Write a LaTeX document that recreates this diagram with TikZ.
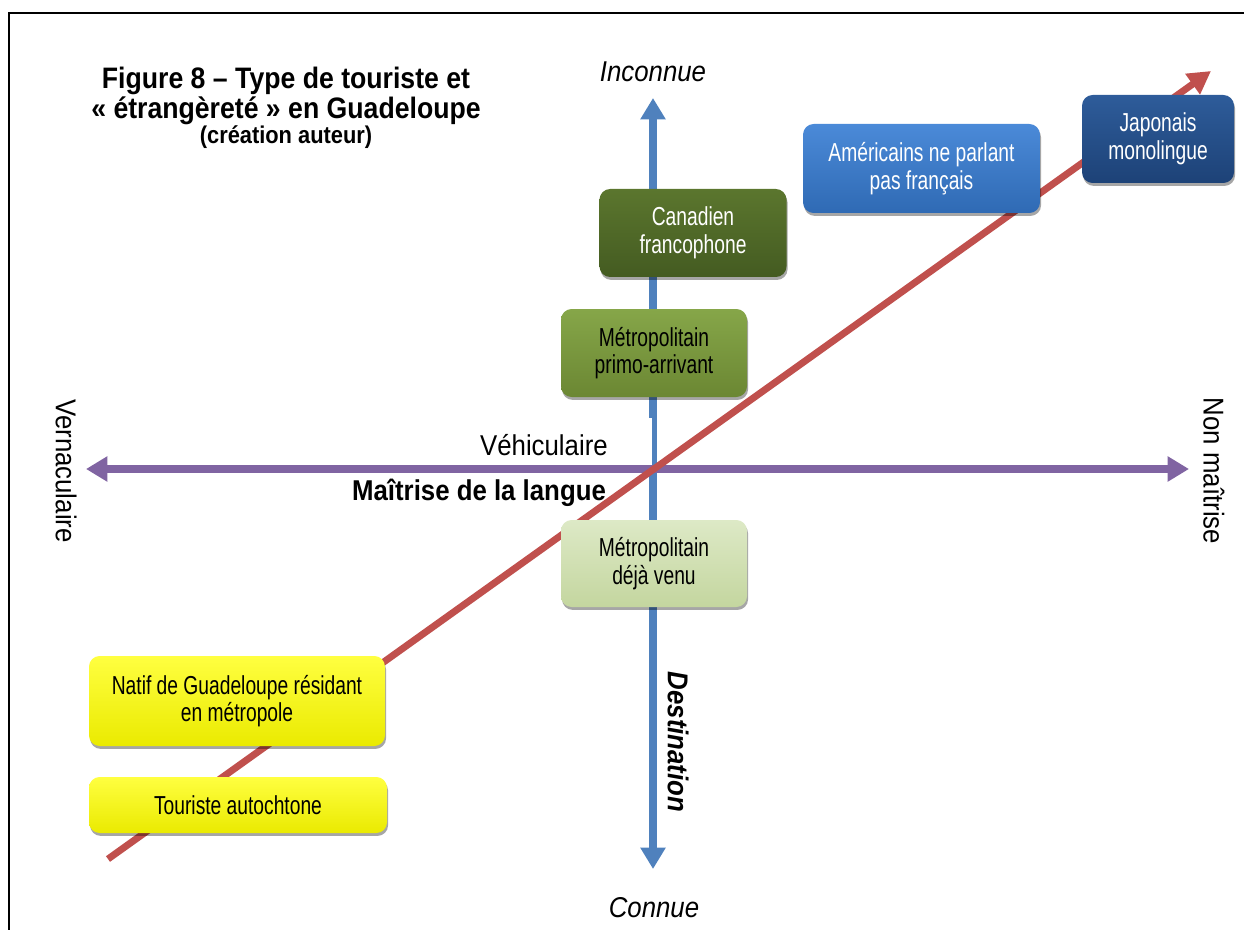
\documentclass[tikz,border=0pt]{standalone}
\usepackage{fontspec}
\setmainfont{Liberation Sans}
\newfontfamily\labf[FakeStretch=0.9]{Liberation Sans}
\newfontfamily\boxf[FakeStretch=0.74]{Liberation Sans}
\usetikzlibrary{arrows.meta,shadows}
\newlength\px \setlength\px{0.75pt}
\definecolor{axblue}{HTML}{4F81BD}
\definecolor{axpurple}{HTML}{8064A2}
\definecolor{axred}{HTML}{C0504D}
\definecolor{canTop}{HTML}{5B762E}
\definecolor{canBot}{HTML}{445B21}
\definecolor{priTop}{HTML}{86A649}
\definecolor{priBot}{HTML}{6B8733}
\definecolor{dejTop}{HTML}{DDE9C6}
\definecolor{dejBot}{HTML}{C4D69F}
\definecolor{amTop}{HTML}{4B8AD8}
\definecolor{amBot}{HTML}{2F6AB4}
\definecolor{jaTop}{HTML}{2E5C9A}
\definecolor{jaBot}{HTML}{1D4277}
\definecolor{yeTop}{HTML}{FFFF40}
\definecolor{yeBot}{HTML}{EAEA00}
\tikzset{
  lab/.style={inner sep=0pt, font=\labf\fontsize{21.5}{24}\selectfont},
  tbox/.style={rounded corners=8pt, inner sep=2pt, align=center,
    font=\boxf\fontsize{19.5}{20.8}\selectfont,
    drop shadow={shadow xshift=0.8pt, shadow yshift=-2.2pt, opacity=0.35, fill=black}},
  axis/.style={line width=5.5pt, arrows={Triangle[width=18pt,length=16pt]-Triangle[width=18pt,length=16pt]}},
  redaxis/.style={line width=5.2pt, -{Triangle[width=18pt,length=17pt]}}
}
\begin{document}
\begin{tikzpicture}[x=0.75pt,y=-0.75pt]
\useasboundingbox (0,0) rectangle (1244,930);
% frame
\draw[line width=1.8pt] (9,930) -- (9,13) -- (1244,13);

% axis end points
\coordinate (vtop) at (653,98);
\coordinate (vbot) at (653,869);
\coordinate (hleft) at (86,469);
\coordinate (hright) at (1189,469);
\coordinate (rstart) at (108,859);
\coordinate (rend) at (1211,71);

% axes
\draw[axis, draw=axblue, fill=axblue] (vbot) -- (vtop);
\draw[axis, draw=axpurple, fill=axpurple] (hleft) -- (hright);

% white background of Vehiculaire label
\fill[white] (470,418) rectangle (652,465);
\node[lab, anchor=base east] (vehic) at (608,455) {Véhiculaire};
\node[lab, anchor=base, font=\labf\bfseries\fontsize{21.5}{24}\selectfont] (maitrise) at (479,500) {Maîtrise de la langue};

% red diagonal
\draw[redaxis, draw=axred, fill=axred] (rstart) -- (rend);

% boxes
\node[tbox, top color=canTop, bottom color=canBot, text=white,
  minimum width=187\px, minimum height=88\px] (canad) at (693,233) {Canadien\\francophone};
\node[tbox, top color=priTop, bottom color=priBot, text=black,
  minimum width=186\px, minimum height=88\px] (primo) at (654,353) {Métropolitain\\primo-arrivant};
\node[tbox, top color=dejTop, bottom color=dejBot, text=black,
  minimum width=186\px, minimum height=87\px] (deja) at (654,563.5) {Métropolitain\\déjà venu};
\node[tbox, top color=amTop, bottom color=amBot, text=white,
  minimum width=237\px, minimum height=89\px] (amer) at (921.5,168.5) {Américains ne parlant\\pas français};
\node[tbox, top color=jaTop, bottom color=jaBot, text=white,
  minimum width=152\px, minimum height=88\px] (japon) at (1158,139) {Japonais\\monolingue};
\node[tbox, top color=yeTop, bottom color=yeBot, text=black,
  minimum width=296\px, minimum height=90\px] (natif) at (237,701) {Natif de Guadeloupe résidant\\en métropole};
\node[tbox, top color=yeTop, bottom color=yeBot, text=black,
  minimum width=298\px, minimum height=56\px] (tour) at (238,805) {Touriste autochtone};

% axis labels
\node[lab, font=\labf\itshape\fontsize{21.5}{24}\selectfont] (inconnue) at (653,72) {Inconnue};
\node[lab, font=\labf\itshape\fontsize{21.5}{24}\selectfont] (connue) at (654,908) {Connue};
\node[lab, rotate=-90] (vernac) at (66,471) {Vernaculaire};
\node[lab, rotate=-90] (nonmait) at (1214,471) {Non maîtrise};
\node[lab, rotate=-90, font=\labf\bfseries\itshape\fontsize{21.5}{24}\selectfont] (dest) at (678,742) {Destination};

% title
\node[inner sep=0pt, anchor=base, font=\labf\bfseries\fontsize{22.2}{24}\selectfont] (title1) at (286,89) {Figure 8 – Type de touriste et};
\node[inner sep=0pt, anchor=base, font=\labf\bfseries\fontsize{22.2}{24}\selectfont] (title2) at (286,119) {« étrangèreté » en Guadeloupe};
\node[inner sep=0pt, anchor=base, font=\labf\bfseries\fontsize{18.2}{20}\selectfont] (title3) at (286,144) {(création auteur)};
\end{tikzpicture}
\end{document}
